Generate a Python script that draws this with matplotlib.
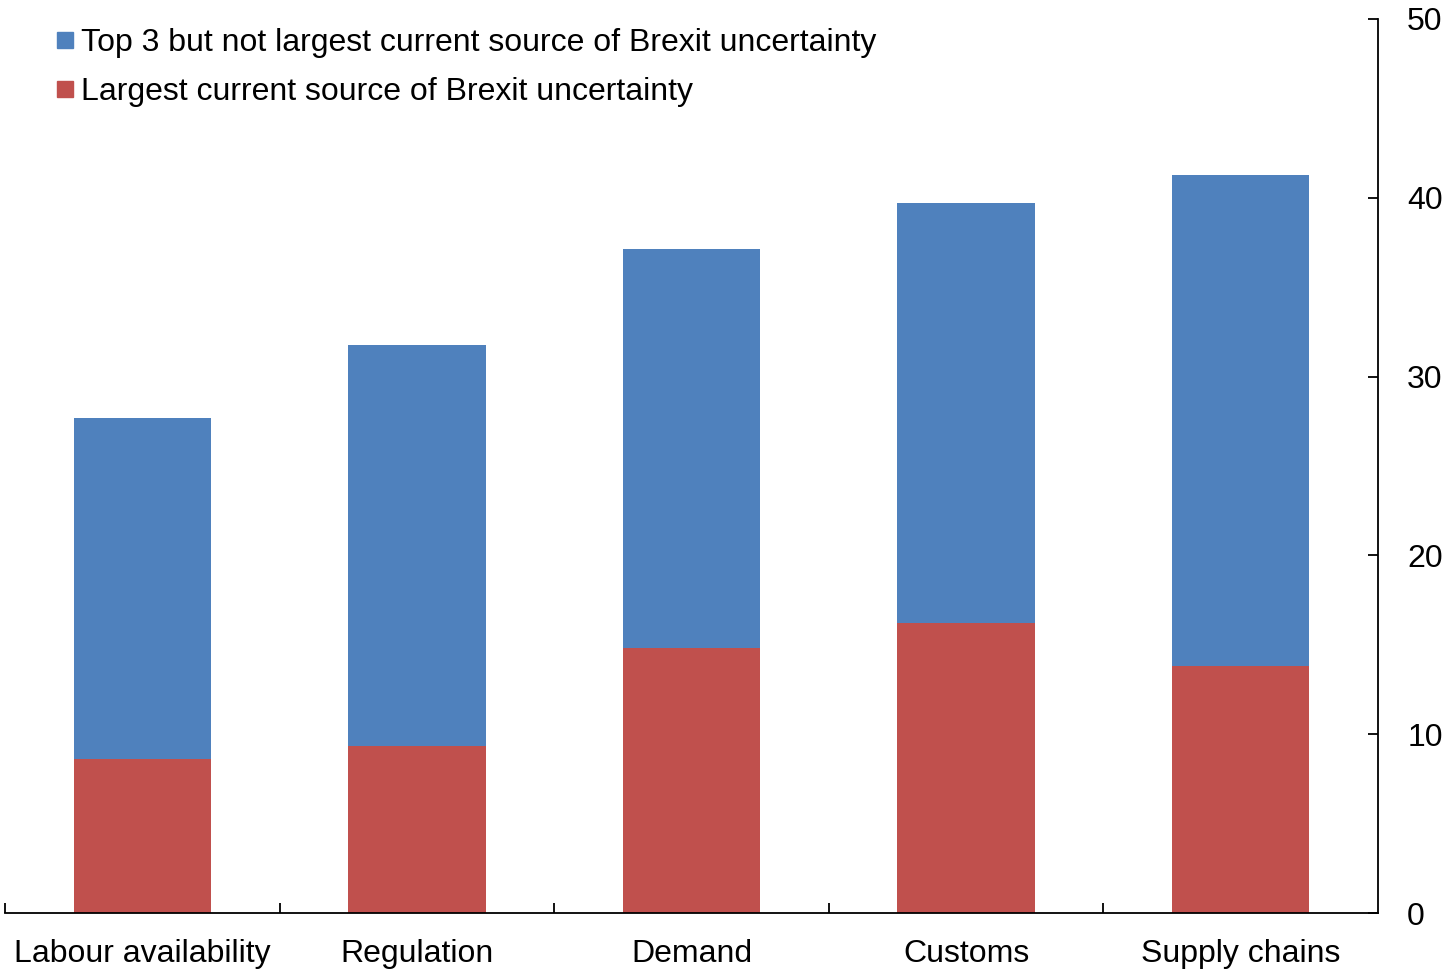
import matplotlib
matplotlib.use('Agg')
import numpy as np
from matplotlib import pyplot as plt
from matplotlib.lines import Line2D

plt.rcParams['font.family'] = ['Liberation Sans', 'DejaVu Sans']

categories = ['Labour availability', 'Regulation', 'Demand', 'Customs', 'Supply chains']
largest = [8.6, 9.35, 14.8, 16.2, 13.8]
top3 = [19.1, 22.4, 22.35, 23.5, 27.5]
series_names = ['Top 3 but not largest current source of Brexit uncertainty',
                'Largest current source of Brexit uncertainty']
yticks = [0, 10, 20, 30, 40, 50]

blue = '#4F81BD'
red = '#C0504D'

fig = plt.figure(figsize=(14.5, 9.72), dpi=100)
ax = fig.add_axes([5/1450, 59/972, 1373/1450, 894/972])

x = np.arange(len(categories))
ax.bar(x, largest, width=0.5, color=red)
ax.bar(x, top3, width=0.5, bottom=largest, color=blue)

ax.set_xlim(-0.5, len(categories) - 0.5)
ax.set_ylim(0, 50)

ax.spines['top'].set_visible(False)
ax.spines['left'].set_visible(False)
ax.spines['right'].set_linewidth(1.3)
ax.spines['bottom'].set_linewidth(1.3)

ax.yaxis.tick_right()
ax.set_yticks(yticks)
ax.tick_params(axis='y', direction='in', length=7, width=1.3, labelsize=23, pad=21)

ax.set_xticks(x)
ax.set_xticklabels(categories)
ax.set_xticks(np.arange(len(categories)) - 0.5, minor=True)
ax.tick_params(axis='x', which='major', length=0, labelsize=23, pad=19)
ax.tick_params(axis='x', which='minor', direction='in', length=7, width=1.3)

handles = [Line2D([], [], marker='s', linestyle='none', color=blue, markersize=11),
           Line2D([], [], marker='s', linestyle='none', color=red, markersize=11)]
fig.legend(handles, series_names, loc='upper left', bbox_to_anchor=(0.0253, 0.984),
           frameon=False, fontsize=23, handletextpad=0.0, labelspacing=0.58,
           handlelength=1.0, borderaxespad=0)

fig.savefig('out.png', dpi=100)
